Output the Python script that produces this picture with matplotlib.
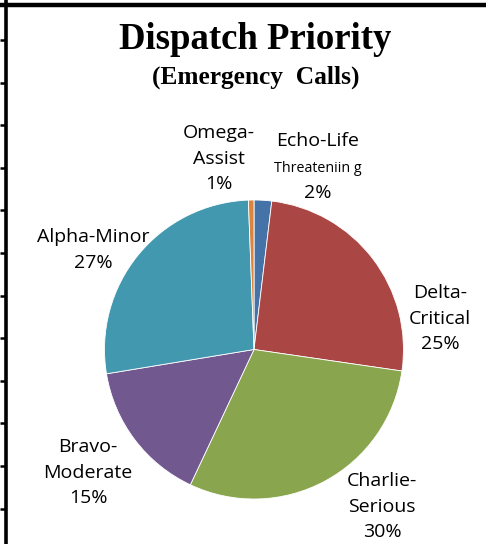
import matplotlib
matplotlib.use('Agg')
import matplotlib.pyplot as plt
import numpy as np

# slice data, clockwise from 12 o'clock
names = ['Echo-Life', 'Delta-', 'Charlie-', 'Bravo-', 'Alpha-Minor', 'Omega-']
subnames = ['Threateniin g', 'Critical', 'Serious', 'Moderate', '', 'Assist']
shares = [1.9, 25.4, 29.7, 15.4, 27.0, 0.6]
colors = ['#4572A7', '#AA4643', '#89A54E', '#71588F', '#4198AF', '#DB843D']

# label block anchors in pixels (center x, first baseline y)
label_pos = [(318, 146), (440, 298), (382, 486), (88, 452), (93, 242), (219, 138)]

W, H = 486, 544
fig = plt.figure(figsize=(W / 100, H / 100), dpi=100)

# pixel overlay for frame and text
over = fig.add_axes([0, 0, 1, 1])
over.set_xlim(0, W)
over.set_ylim(H, 0)
over.axis('off')

# spreadsheet-ish frame
over.plot([0, W], [4.5, 4.5], color='black', lw=3.2, solid_capstyle='butt')
over.plot([5.5, 5.5], [0, H], color='black', lw=2.6, solid_capstyle='butt')
for ty in np.arange(40, H, 42.6):
    over.plot([0, 5.5], [ty, ty], color='black', lw=1.8, solid_capstyle='butt')

over.text(255, 49, 'Dispatch Priority', family='Liberation Serif', weight='bold',
          fontsize=26.5, ha='center', va='baseline')
over.text(256, 84, '(Emergency  Calls)', family='Liberation Serif', weight='bold',
          fontsize=18.3, ha='center', va='baseline')

# pie
cx, cy, r = 254, 349.5, 149.5
ax = fig.add_axes([(cx - r) / W, (H - cy - r) / H, 2 * r / W, 2 * r / H])
ax.pie(shares, colors=colors, startangle=90, counterclock=False, radius=1,
       wedgeprops=dict(edgecolor='white', linewidth=0.6))
ax.set_xlim(-1, 1)
ax.set_ylim(-1, 1)
ax.set_aspect('equal')
ax.axis('off')

fs = 14
for name, sub, val, (x, y) in zip(names, subnames, shares, label_pos):
    lines = [name]
    sizes = [fs]
    if sub:
        lines.append(sub)
        sizes.append(10.3 if name == 'Echo-Life' else fs)
    lines.append(f'{val:.0f}%')
    sizes.append(fs)
    yy = y
    for i, (txt, s) in enumerate(zip(lines, sizes)):
        if i > 0:
            yy += 26 if sizes[i] < fs else 25.5
        over.text(x, yy, txt, family='Open Sans', fontsize=s, ha='center', va='baseline')

fig.savefig('out.png', dpi=100)
